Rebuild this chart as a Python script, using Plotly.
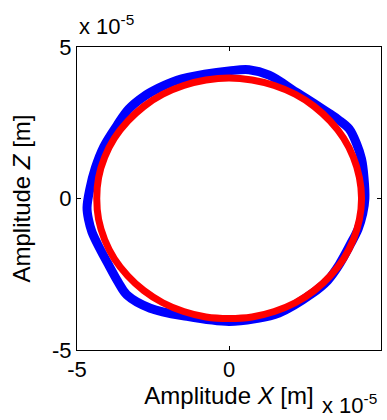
import plotly.graph_objects as go

# Values in units of 1e-5 m
blue_x = [4.47, 4.44, 4.36, 4.20, 3.95, 3.60, 3.29, 2.70, 2.19, 1.32, 0.66, 0.00, -0.80, -1.71, -2.30, -2.81, -3.30, -3.68, -4.12, -4.40, -4.58, -4.67, -4.62, -4.51, -4.25, -3.96, -3.65, -3.36, -2.59, -1.38, 0.00, 0.85, 1.64, 2.74, 3.25, 3.62, 4.00, 4.25, 4.40, 4.47]
blue_y = [0.00, 0.70, 1.30, 1.80, 2.30, 2.60, 2.81, 3.20, 3.52, 4.07, 4.25, 4.21, 4.10, 3.90, 3.65, 3.36, 2.95, 2.42, 1.71, 1.00, 0.30, -0.30, -0.70, -1.10, -1.65, -2.19, -2.75, -3.18, -3.62, -3.89, -4.06, -3.97, -3.78, -3.13, -2.70, -2.19, -1.50, -1.00, -0.50, 0.00]

red_x = [4.36, 4.29, 4.09, 3.77, 3.33, 2.80, 2.18, 1.49, 0.76, 0.00, -0.76, -1.49, -2.18, -2.80, -3.33, -3.77, -4.09, -4.29, -4.35, -4.29, -4.09, -3.77, -3.33, -2.80, -2.18, -1.49, -0.76, 0.00, 0.76, 1.49, 2.18, 2.80, 3.33, 3.77, 4.09, 4.29, 4.36]
red_y = [0.00, 0.69, 1.36, 1.99, 2.55, 3.04, 3.44, 3.73, 3.91, 3.98, 3.91, 3.73, 3.44, 3.04, 2.55, 1.99, 1.36, 0.69, 0.00, -0.69, -1.36, -1.99, -2.55, -3.04, -3.44, -3.73, -3.91, -3.96, -3.91, -3.73, -3.44, -3.04, -2.55, -1.99, -1.36, -0.69, 0.00]

tick_vals = [-5, 0, 5]
tick_text = ["-5", "0", "5"]

FONT = "Liberation Sans, Arial, sans-serif"

fig = go.Figure()
fig.add_trace(go.Scatter(x=blue_x, y=blue_y, mode="lines",
                         line=dict(color="#0000ff", width=9, shape="spline", smoothing=1.0),
                         showlegend=False, hoverinfo="skip"))
fig.add_trace(go.Scatter(x=red_x, y=red_y, mode="lines",
                         line=dict(color="#ff0000", width=7, shape="spline", smoothing=1.3),
                         showlegend=False, hoverinfo="skip"))

axis_common = dict(
    showgrid=False, zeroline=False, showline=True, linecolor="#000000", linewidth=1,
    mirror="ticks", ticks="inside", ticklen=4, tickcolor="#000000",
    tickfont=dict(family=FONT, size=22, color="#000000"),
    tickvals=tick_vals, ticktext=tick_text, range=[-5, 5],
)

fig.update_layout(
    width=387, height=420,
    margin=dict(l=77, r=6, t=47, b=70),
    paper_bgcolor="white", plot_bgcolor="white",
    xaxis=dict(**axis_common,
               title=dict(text="Amplitude <i>X</i> [m]", font=dict(family=FONT, size=24, color="#000000"), standoff=4)),
    yaxis=dict(**axis_common,
               title=dict(text="Amplitude <i>Z</i> [m]", font=dict(family=FONT, size=24, color="#000000"), standoff=14)),
    annotations=[
        dict(text="x 10<sup>-5</sup>", xref="paper", yref="paper", x=0.0, y=1.0,
             xanchor="left", yanchor="bottom", showarrow=False, yshift=6, xshift=0,
             font=dict(family=FONT, size=22, color="#000000")),
        dict(text="x 10<sup>-5</sup>", xref="paper", yref="paper", x=1.0, y=0.0,
             xanchor="right", yanchor="top", showarrow=False, yshift=-38, xshift=-2,
             font=dict(family=FONT, size=22, color="#000000")),
    ],
)

fig.write_html("out.html")
